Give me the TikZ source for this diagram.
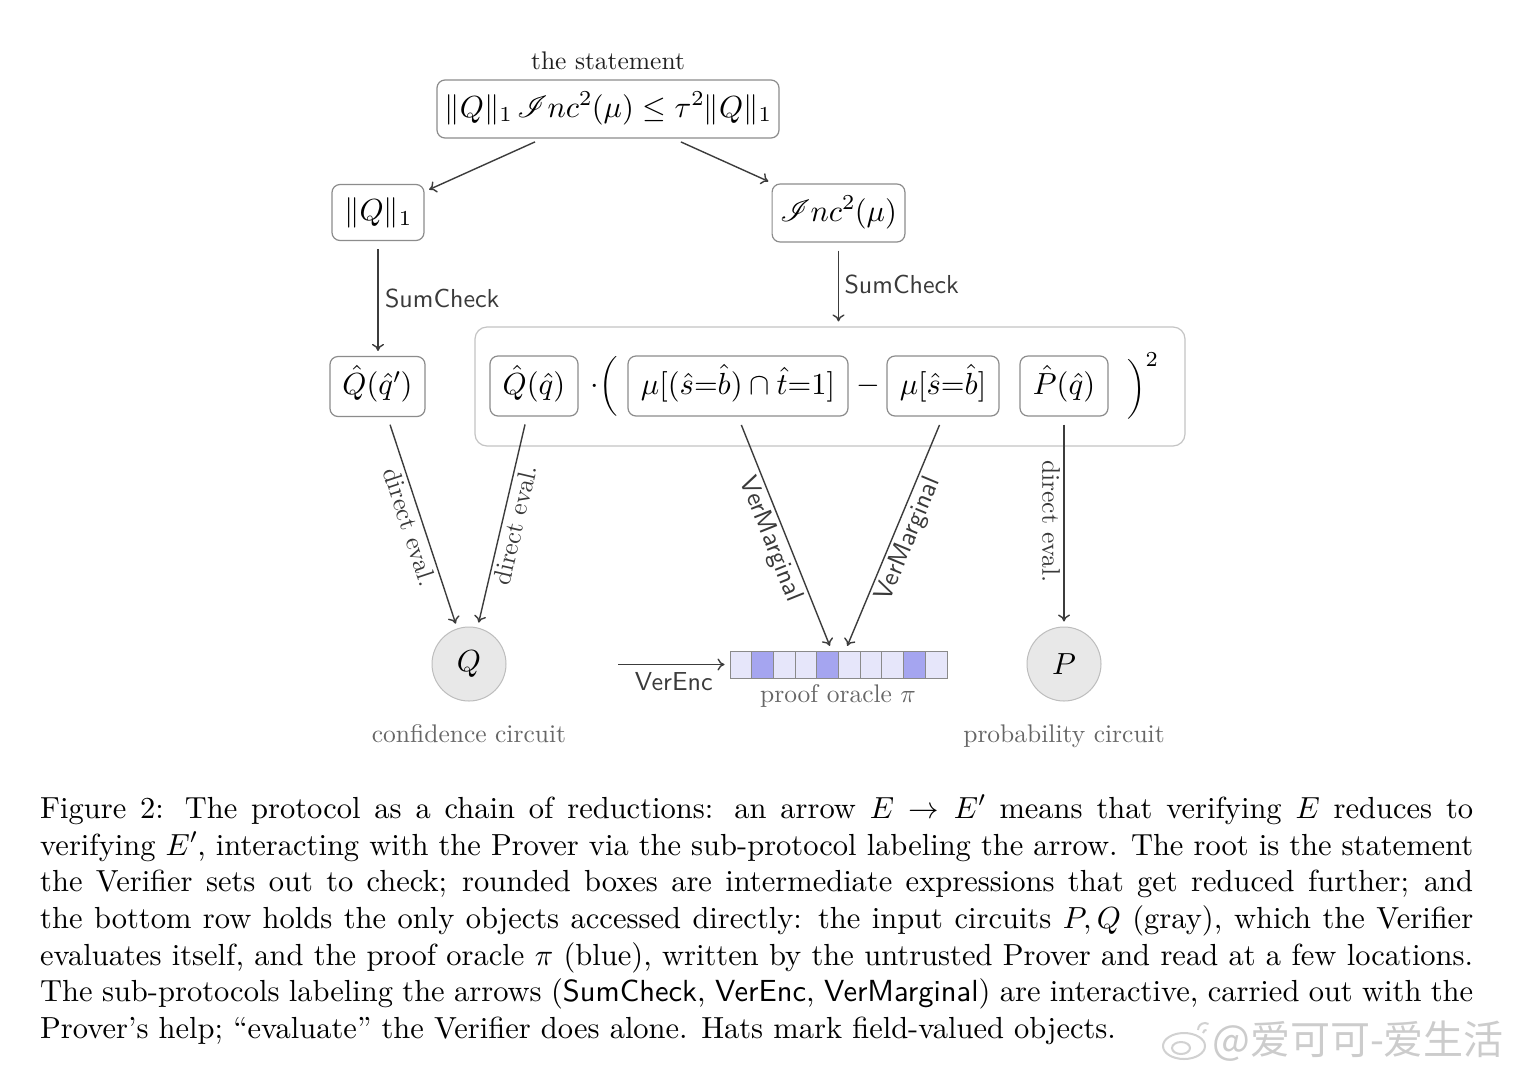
\documentclass[tikz,border=0pt]{standalone}
\usepackage{fix-cm}
\DeclareFontShape{OT1}{cmr}{m}{n}{<-22>cmr7<22->cmr10}{}
\DeclareFontShape{OML}{cmm}{m}{it}{<-22>cmmi7<22->cmmi10}{}
\DeclareFontShape{OMS}{cmsy}{m}{n}{<-22>cmsy7<22->cmsy10}{}
\usepackage{amsmath}
\IfFileExists{mathrsfs.sty}{%
  \usepackage{mathrsfs}%
  \DeclareFontFamily{U}{rsfs}{\skewchar\font127 }%
  \DeclareFontShape{U}{rsfs}{m}{n}{<->rsfs10}{}%
}{\newcommand\mathscr{\mathcal}}
\usepackage{fontspec}
\setmainfont{lmroman10-regular.otf}[
  SizeFeatures={{Size=-22, Font=lmroman7-regular.otf},{Size=22-}},
  ItalicFont=lmroman10-italic.otf, BoldFont=lmroman10-bold.otf]
\setsansfont{lmsans10-regular.otf}
\newfontfamily\cjk{Noto Sans CJK SC}
\usetikzlibrary{arrows.meta,calc}
\definecolor{boxgray}{HTML}{8C8C8C}
\definecolor{biggray}{HTML}{C4C4C4}
\definecolor{linegray}{HTML}{3C3C3C}
\definecolor{circfill}{HTML}{E8E8E8}
\definecolor{circgray}{HTML}{BDBDBD}
\definecolor{celllight}{HTML}{E6E6FA}
\definecolor{celldark}{HTML}{A5A5F0}
\definecolor{cellgray}{HTML}{8A8A8A}
\definecolor{labelgray}{HTML}{666666}
\definecolor{darklabel}{HTML}{3A3A3A}
\begin{document}
\begin{tikzpicture}[x=1pt,y=-1pt,
  every node/.style={font=\fontsize{30.5}{36.6}\selectfont},
  box/.style={draw=boxgray, line width=1.2pt, rounded corners=8pt, fill=white,
    inner xsep=11pt, inner ysep=0pt, minimum height=58pt, text height=24pt, text depth=8pt},
  arr/.style={draw=linegray, line width=1.4pt, -{To[length=7pt,width=12pt]},
    shorten <=8pt, shorten >=5pt},
  lbl/.style={font=\fontsize{25.5}{30}\selectfont, text=labelgray},
  evl/.style={font=\fontsize{25.5}{30}\selectfont, text=darklabel},
  sflbl/.style={font=\fontsize{26}{31}\selectfont\sffamily, text=darklabel},
  cell/.style={draw=cellgray, line width=1pt, minimum width=21.7pt, minimum height=27pt, inner sep=0pt},
  circ/.style={circle, draw=circgray, fill=circfill, line width=1pt, minimum size=74pt, inner sep=0pt},
  capline/.style={anchor=base west, inner sep=0pt, font=\fontsize{30.5}{36.6}\selectfont}
]
\fill[white] (0,0) rectangle (1518,1080);
\useasboundingbox (0,0) rectangle (1518,1080);

% top
\node[evl, text=black!88] (stmtlabel) at (608,61) {the statement};
\node[box, inner xsep=7pt, minimum width=342pt] (stmt) at (608,109) {$\|Q\|_1\,\mathscr{I}nc^2(\mu)\le\tau^2\|Q\|_1$};
\node[box, minimum width=92pt, minimum height=56pt] (qnorm) at (378,212.5) {$\|Q\|_1$};
\node[box, inner xsep=8pt, minimum width=129pt] (inc) at (838.5,213) {$\mathscr{I}nc^2(\mu)$};

% middle row
\node[box, minimum width=95pt, minimum height=60pt] (qhp) at (377.5,386.5) {$\hat{Q}(\hat{q}')$};
\node[draw=biggray, line width=1.2pt, rounded corners=12pt, minimum width=710pt, minimum height=119pt, inner sep=0pt] (big) at (830,386.5) {};
\node[box, minimum width=88pt, minimum height=60pt] (qh) at (534,386) {$\hat{Q}(\hat{q})$};
\node[inner sep=0pt] (dotparen) at (604,386) {${\cdot}\Big($};
\node[box, minimum width=220pt, minimum height=60pt] (mu1) at (738,386) {$\mu[(\hat{s}{=}\hat{b})\cap\hat{t}{=}1]$};
\node[inner sep=0pt] (minus) at (868,386) {$-$};
\node[box, minimum width=112pt, minimum height=60pt] (mu2) at (943,386) {$\mu[\hat{s}{=}\hat{b}]$};
\node[box, minimum width=88pt, minimum height=60pt] (ph) at (1064,386) {$\hat{P}(\hat{q})$};
\node[anchor=west, inner sep=0pt] (sq) at (1127,386) {$\Big)^{2}$};

% bottom row
\node[circ] (Q) at (469,664) {$Q$};
\node[circ] (P) at (1064,664) {$P$};
\node[lbl, text height=17.6pt, text depth=0pt] (qlab) at (469,734) {confidence circuit};
\node[lbl, text height=17.6pt, text depth=0pt] (plab) at (1064,734) {probability circuit};
\foreach \i/\c in {0/celllight,1/celldark,2/celllight,3/celllight,4/celldark,5/celllight,6/celllight,7/celllight,8/celldark,9/celllight}
  \node[cell, fill=\c] (c\i) at ({740.85+21.7*\i},664.5) {};
\node[lbl] (olab) at (838,696) {proof oracle $\pi$};
\coordinate (encstart) at (618,664.5);
\coordinate (vm1) at ($(c4.north)+(4,0)$);
\coordinate (vm2) at ($(c5.north)+(-4,0)$);

% connectors
\draw[arr] (stmt) -- (qnorm);
\draw[arr] (stmt) -- (inc);
\draw[arr] (qnorm.south) -- node[right, sflbl, xshift=3pt] {SumCheck} (qnorm.south |- qhp.north);
\draw[arr] (inc.south) -- node[right, sflbl, xshift=2pt] {SumCheck} (inc.south |- big.north);
\draw[arr] (qhp) -- node[sloped, below, evl] {direct eval.} (Q);
\draw[arr] (qh) -- node[sloped, below, evl] {direct eval.} (Q);
\draw[arr, shorten <=9pt] (mu1.south) -- node[sloped, below, sflbl] {VerMarginal} (vm1);
\draw[arr, shorten <=9pt] (mu2.south) -- node[sloped, below, sflbl] {VerMarginal} (vm2);
\draw[arr] (ph.south) -- node[rotate=-90, anchor=north, evl] {direct eval.} (ph.south |- P.north);
\draw[arr, shorten <=0pt] (encstart) -- node[below, sflbl, yshift=-4pt] {VerEnc} (c0.west);

% caption
\node[capline] (cap1) at (40,818) {\hbox to 1433pt{Figure 2: The protocol as a chain of reductions: an arrow $E\to E'$ means that verifying $E$ reduces to}};
\node[capline] (cap2) at (40,855) {\hbox to 1433pt{verifying $E'$, interacting with the Prover via the sub-protocol labeling the arrow. The root is the statement}};
\node[capline] (cap3) at (40,891) {\hbox to 1433pt{the Verifier sets out to check; rounded boxes are intermediate expressions that get reduced further; and}};
\node[capline] (cap4) at (40,928) {\hbox to 1433pt{the bottom row holds the only objects accessed directly: the input circuits $P,Q$ (gray), which the Verifier}};
\node[capline] (cap5) at (40,965) {\hbox to 1433pt{evaluates itself, and the proof oracle $\pi$ (blue), written by the untrusted Prover and read at a few locations.}};
\node[capline] (cap6) at (40,1001) {\hbox to 1433pt{The sub-protocols labeling the arrows (\textsf{SumCheck}, \textsf{VerEnc}, \textsf{VerMarginal}) are interactive, carried out with the}};
\node[capline] (cap7) at (40,1038) {Prover's help; ``evaluate'' the Verifier does alone. Hats mark field-valued objects.};

% watermark
\draw[black!18, line width=2pt] (1184,1046) ellipse [x radius=21pt, y radius=13pt];
\draw[black!18, line width=2pt] (1181,1048) ellipse [x radius=9pt, y radius=6pt];
\draw[black!18, line width=2pt] (1198,1030) arc[start angle=180, end angle=60, radius=7pt];
\draw[black!18, line width=2pt] (1203,1033) arc[start angle=180, end angle=80, radius=3pt];
\node[anchor=west, inner sep=0pt, text=black!20, font=\cjk\fontsize{40}{40}\selectfont] (wm) at (1212,1041) {@爱可可-爱生活};
\end{tikzpicture}
\end{document}
